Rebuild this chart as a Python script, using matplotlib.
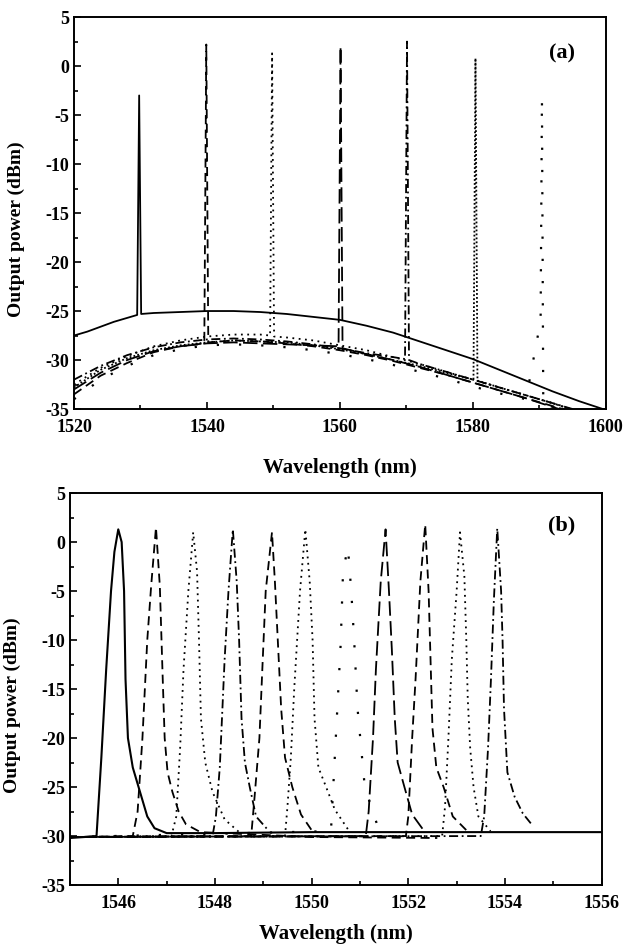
import matplotlib
matplotlib.use('Agg')
import matplotlib.pyplot as plt
from matplotlib.ticker import MultipleLocator

plt.rcParams['font.family'] = ['Liberation Serif', 'DejaVu Serif']
plt.rcParams['font.weight'] = 'bold'
plt.rcParams['axes.unicode_minus'] = False

# ---------- (a) broad tuning, 1520-1600 nm ----------
a_wl_1530 = [1520, 1522, 1524, 1526, 1528, 1529.5, 1529.8, 1530.1, 1532, 1536, 1540, 1544, 1548,
             1552, 1556, 1560, 1564, 1568, 1572, 1576, 1580, 1584, 1588, 1592, 1596, 1600]
a_p_1530 = [-27.5, -27.1, -26.6, -26.1, -25.7, -25.4, -3.0, -25.3, -25.2, -25.1, -25.0, -25.0, -25.1,
            -25.3, -25.6, -25.9, -26.5, -27.2, -28.1, -29.0, -29.9, -31.0, -32.1, -33.2, -34.2, -35.1]

a_wl_1540 = [1520, 1524, 1528, 1532, 1536, 1539.6, 1539.9, 1540.2, 1544, 1548, 1552, 1556, 1560,
             1564, 1568, 1572, 1576, 1580, 1584, 1588, 1592, 1596]
a_p_1540 = [-33.5, -31.6, -30.3, -29.2, -28.6, -28.3, 2.2, -28.2, -28.0, -28.1, -28.3, -28.6, -29.0,
            -29.5, -30.1, -30.8, -31.5, -32.3, -33.1, -33.9, -34.7, -35.5]

a_wl_1550 = [1520, 1524, 1528, 1532, 1536, 1540, 1544, 1548, 1549.5, 1549.8, 1550.1, 1552, 1556,
             1560, 1564, 1568, 1572, 1576, 1580, 1584, 1588, 1592, 1596]
a_p_1550 = [-32.5, -30.8, -29.6, -28.6, -28.0, -27.6, -27.4, -27.4, -27.5, 1.3, -27.6, -27.7, -28.0,
            -28.5, -29.0, -29.7, -30.4, -31.2, -32.0, -32.8, -33.6, -34.4, -35.3]

a_wl_1560 = [1520, 1524, 1528, 1532, 1536, 1540, 1544, 1548, 1552, 1556, 1559.8, 1560.1, 1560.4,
             1564, 1568, 1572, 1576, 1580, 1584, 1588, 1592, 1596]
a_p_1560 = [-33.0, -31.3, -30.0, -29.1, -28.6, -28.3, -28.2, -28.3, -28.4, -28.5, -28.6, 2.0, -28.8,
            -29.4, -30.0, -30.7, -31.5, -32.3, -33.1, -33.9, -34.8, -35.6]

a_wl_1570 = [1520, 1524, 1528, 1532, 1536, 1540, 1544, 1548, 1552, 1556, 1560, 1564, 1568, 1569.8,
             1570.1, 1570.4, 1572, 1576, 1580, 1584, 1588, 1592, 1596]
a_p_1570 = [-32.0, -30.6, -29.5, -28.7, -28.2, -27.9, -27.8, -27.9, -28.1, -28.4, -28.8, -29.3, -29.7,
            -29.9, 2.5, -30.0, -30.4, -31.2, -32.0, -32.8, -33.6, -34.4, -35.2]

a_wl_1580 = [1520, 1524, 1528, 1532, 1536, 1540, 1544, 1548, 1552, 1556, 1560, 1564, 1568, 1572,
             1576, 1580.1, 1580.4, 1580.7, 1584, 1588, 1592, 1596]
a_p_1580 = [-32.8, -31.0, -29.8, -29.0, -28.5, -28.2, -28.0, -28.1, -28.2, -28.5, -28.9, -29.4, -30.0,
            -30.6, -31.3, -32.0, 0.8, -32.1, -32.8, -33.6, -34.4, -35.3]

a_wl_1590 = [1520, 1524, 1528, 1532, 1536, 1540, 1544, 1548, 1552, 1556, 1560, 1564, 1568, 1572,
             1576, 1580, 1584, 1588, 1590.2, 1590.4, 1590.6, 1594, 1598]
a_p_1590 = [-34.0, -32.0, -30.6, -29.5, -28.9, -28.5, -28.4, -28.5, -28.7, -29.0, -29.4, -29.9, -30.5,
            -31.2, -31.9, -32.7, -33.4, -34.0, -26.0, -3.3, -34.5, -35.2, -36.0]

# ---------- (b) fine tuning, 1545-1556 nm ----------
b_wl_1 = [1545.0, 1545.3, 1545.55, 1545.65, 1545.75, 1545.85, 1545.92, 1546.0, 1546.07, 1546.12,
          1546.15, 1546.2, 1546.3, 1546.45, 1546.6, 1546.75, 1547.0, 1548, 1550, 1552, 1554, 1556]
b_p_1 = [-30.2, -30.1, -30.0, -22.0, -13.0, -5.0, -1.0, 1.3, 0.0, -5.0,
         -14.0, -20.0, -23.0, -25.5, -28.0, -29.2, -29.7, -29.7, -29.6, -29.6, -29.6, -29.6]

b_wl_2 = [1545.0, 1546.3, 1546.4, 1546.5, 1546.6, 1546.68, 1546.78, 1546.86, 1546.92, 1546.96,
          1547.02, 1547.12, 1547.25, 1547.4, 1547.7, 1550, 1552.6]
b_p_2 = [-30.1, -30.0, -27.5, -20.0, -10.0, -4.5, 1.5, -4.5, -14.0, -20.0,
         -23.5, -25.5, -27.5, -28.8, -29.6, -30.1, -30.2]

b_wl_3 = [1545.0, 1547.1, 1547.2, 1547.28, 1547.35, 1547.45, 1547.55, 1547.63, 1547.67, 1547.71,
          1547.8, 1547.95, 1548.2, 1548.5]
b_p_3 = [-30.1, -30.0, -28.0, -21.0, -13.0, -5.0, 1.0, -3.0, -10.0, -18.0,
         -22.5, -25.5, -28.3, -29.6]

b_wl_4 = [1545.0, 1547.95, 1548.02, 1548.1, 1548.2, 1548.28, 1548.37, 1548.45, 1548.5, 1548.55,
          1548.62, 1548.72, 1548.85, 1549.1]
b_p_4 = [-30.1, -30.0, -28.0, -23.0, -12.0, -5.0, 1.3, -4.0, -10.0, -18.0,
         -22.5, -25.0, -28.0, -29.4]

b_wl_5 = [1545.0, 1548.75, 1548.82, 1548.92, 1548.98, 1549.05, 1549.18, 1549.24, 1549.3, 1549.37,
          1549.45, 1549.6, 1549.78, 1550.0]
b_p_5 = [-30.1, -30.0, -26.0, -20.0, -13.0, -5.0, 1.0, -4.0, -10.0, -17.0,
         -22.0, -25.0, -27.8, -29.4]

b_wl_6 = [1545.0, 1549.45, 1549.5, 1549.57, 1549.64, 1549.76, 1549.87, 1549.96, 1550.02, 1550.06,
          1550.14, 1550.3, 1550.48, 1550.75]
b_p_6 = [-30.1, -30.0, -27.0, -22.0, -15.0, -5.0, 1.3, -4.0, -10.0, -18.0,
         -23.0, -25.0, -27.3, -29.3]

b_wl_7 = [1545.0, 1550.4, 1550.5, 1550.6, 1550.65, 1550.75, 1550.82, 1550.88, 1550.95, 1551.1, 1551.4]
b_p_7 = [-30.1, -29.5, -20.0, -10.5, -3.0, -0.5, -5.0, -10.0, -17.0, -25.0, -29.5]

b_wl_8 = [1545.0, 1551.12, 1551.18, 1551.27, 1551.33, 1551.43, 1551.53, 1551.6, 1551.66, 1551.72,
          1551.78, 1551.92, 1552.08, 1552.3]
b_p_8 = [-30.1, -30.0, -27.5, -20.0, -13.0, -4.0, 1.3, -5.0, -11.0, -18.0,
         -22.5, -25.0, -27.8, -29.3]

b_wl_9 = [1545.0, 1551.95, 1552.0, 1552.08, 1552.15, 1552.25, 1552.35, 1552.42, 1552.46, 1552.5,
          1552.58, 1552.73, 1552.92, 1553.2]
b_p_9 = [-30.1, -30.0, -28.0, -20.0, -14.0, -4.0, 1.8, -5.0, -12.0, -19.0,
         -23.0, -25.0, -28.0, -29.4]

b_wl_10 = [1545.0, 1552.7, 1552.76, 1552.83, 1552.9, 1553.0, 1553.07, 1553.16, 1553.2, 1553.23,
           1553.28, 1553.35, 1553.45, 1553.7]
b_p_10 = [-30.1, -30.0, -27.0, -20.0, -12.0, -5.0, 1.0, -3.5, -10.0, -16.0,
          -21.0, -25.0, -28.0, -29.5]

b_wl_11 = [1545.0, 1553.5, 1553.57, 1553.65, 1553.71, 1553.77, 1553.84, 1553.92, 1553.95, 1553.98,
           1554.05, 1554.2, 1554.37, 1554.55]
b_p_11 = [-30.1, -30.0, -28.0, -21.0, -14.0, -6.0, 1.4, -5.0, -10.0, -17.0,
          -23.5, -26.0, -27.7, -28.8]

# styles
dash = (0, (5, 3))
longdash = (0, (8, 3))
dot = (0, (1, 2.5))
densedot = (0, (1, 1.2))
sparsedot = (0, (1, 9))
dashdot = (0, (5, 2, 1, 2))

fig = plt.figure(figsize=(6.3, 9.49), dpi=100)
ax1 = fig.add_axes([0.1175, 0.569, 0.844, 0.413])
ax2 = fig.add_axes([0.111, 0.0674, 0.844, 0.413])

# (a)
ax1.plot(a_wl_1530, a_p_1530, color='black', lw=1.3, ls='-')
ax1.plot(a_wl_1540, a_p_1540, color='black', lw=1.3, ls=dash)
ax1.plot(a_wl_1550, a_p_1550, color='black', lw=1.3, ls=dot)
ax1.plot(a_wl_1560, a_p_1560, color='black', lw=1.3, ls=longdash)
ax1.plot(a_wl_1570, a_p_1570, color='black', lw=1.3, ls=dashdot)
ax1.plot(a_wl_1580, a_p_1580, color='black', lw=1.3, ls=densedot)
ax1.plot(a_wl_1590, a_p_1590, color='black', lw=1.6, ls=sparsedot)

ax1.set_xlim(1520, 1600)
ax1.set_ylim(-35, 5)
ax1.xaxis.set_major_locator(MultipleLocator(20))
ax1.xaxis.set_minor_locator(MultipleLocator(10))
ax1.text(0.917, 0.908, '(a)', transform=ax1.transAxes, ha='center', va='center',
         fontsize=16, fontweight='bold')

# (b)
ax2.plot(b_wl_1, b_p_1, color='black', lw=1.5, ls='-')
ax2.plot(b_wl_2, b_p_2, color='black', lw=1.3, ls=dash)
ax2.plot(b_wl_3, b_p_3, color='black', lw=1.3, ls=dot)
ax2.plot(b_wl_4, b_p_4, color='black', lw=1.3, ls=dashdot)
ax2.plot(b_wl_5, b_p_5, color='black', lw=1.3, ls=dash)
ax2.plot(b_wl_6, b_p_6, color='black', lw=1.3, ls=dot)
ax2.plot(b_wl_7, b_p_7, color='black', lw=1.6, ls=sparsedot)
ax2.plot(b_wl_8, b_p_8, color='black', lw=1.3, ls=longdash)
ax2.plot(b_wl_9, b_p_9, color='black', lw=1.3, ls=dash)
ax2.plot(b_wl_10, b_p_10, color='black', lw=1.3, ls=dot)
ax2.plot(b_wl_11, b_p_11, color='black', lw=1.3, ls=dashdot)

ax2.set_xlim(1545, 1556)
ax2.set_ylim(-35, 5)
ax2.xaxis.set_major_locator(MultipleLocator(2))
ax2.xaxis.set_minor_locator(MultipleLocator(1))
ax2.text(0.925, 0.918, '(b)', transform=ax2.transAxes, ha='center', va='center',
         fontsize=16, fontweight='bold')

for ax, xl_y in ((ax1, -0.125), (ax2, -0.1)):
    ax.yaxis.set_major_locator(MultipleLocator(5))
    ax.yaxis.set_minor_locator(MultipleLocator(2.5))
    ax.tick_params(which='both', direction='in', top=False, right=False,
                   labelsize=13, width=1.2)
    ax.tick_params(which='major', length=5)
    ax.tick_params(which='minor', length=3)
    ax.tick_params(axis='x', which='major', pad=7)
    for lab in ax.get_xticklabels() + ax.get_yticklabels():
        lab.set_fontweight('bold')
    for sp in ax.spines.values():
        sp.set_linewidth(1.4)
    ax.set_xlabel('Wavelength (nm)', fontsize=15, fontweight='bold')
    ax.set_ylabel('Output power (dBm)', fontsize=14, fontweight='bold')
    ax.xaxis.set_label_coords(0.5, xl_y)
    ax.yaxis.set_label_coords(-0.092, 0.46)

plt.savefig('out.png', dpi=100)
